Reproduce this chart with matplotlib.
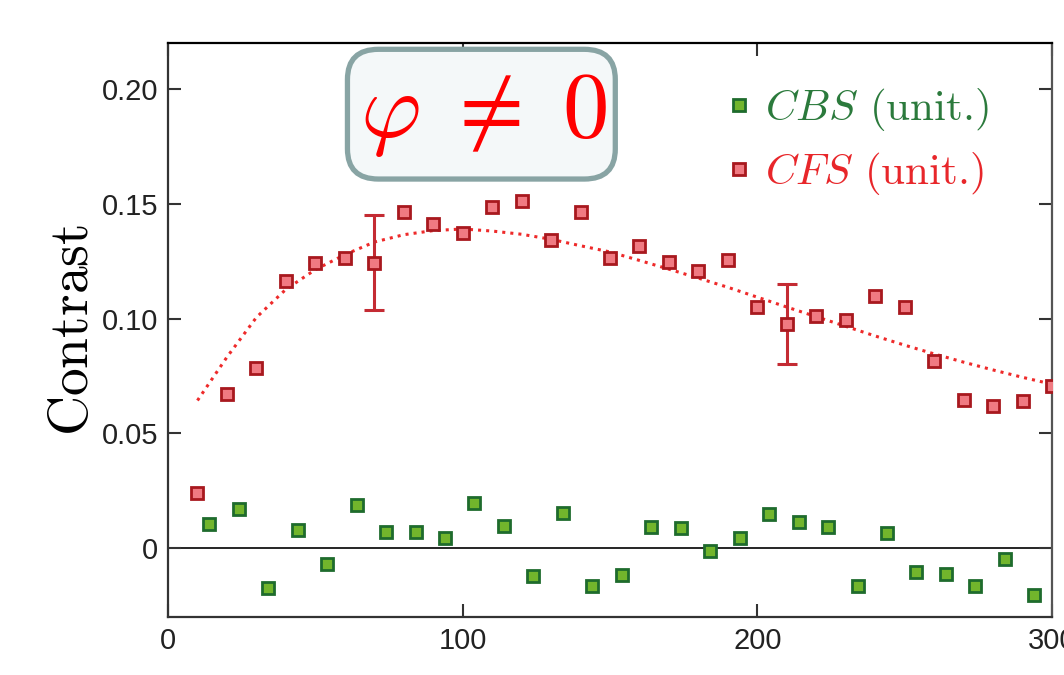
import numpy as np
import matplotlib.pyplot as plt
from matplotlib.patches import FancyBboxPatch

plt.rcParams['font.family'] = 'Liberation Sans'
plt.rcParams['mathtext.fontset'] = 'cm'

## Datos
# CFS (forward scattering) contrast, one point every 10 units
t_cfs = [10, 20, 30, 40, 50, 60, 70, 80, 90, 100,
         110, 120, 130, 140, 150, 160, 170, 180, 190, 200,
         210, 220, 230, 240, 250, 260, 270, 280, 290, 300]
cfs = [0.0238, 0.0672, 0.0786, 0.1163, 0.1241, 0.1263, 0.1244, 0.1462, 0.1412, 0.1372,
       0.1484, 0.1510, 0.1343, 0.1462, 0.1264, 0.1314, 0.1245, 0.1209, 0.1255, 0.1049,
       0.0976, 0.1013, 0.0994, 0.1100, 0.1049, 0.0817, 0.0643, 0.0619, 0.0640, 0.0704]

# CBS (backscattering) contrast
t_cbs = [14, 24, 34, 44, 54, 64, 74, 84, 94, 104,
         114, 124, 134, 144, 154, 164, 174, 184, 194, 204,
         214, 224, 234, 244, 254, 264, 274, 284, 294]
cbs = [0.0107, 0.0172, -0.0175, 0.0078, -0.0071, 0.0190, 0.0071, 0.0071, 0.0042, 0.0197,
       0.0096, -0.0122, 0.0151, -0.0164, -0.0117, 0.0093, 0.0086, -0.0012, 0.0042, 0.0148,
       0.0112, 0.0093, -0.0165, 0.0067, -0.0103, -0.0114, -0.0165, -0.0049, -0.0204]

# barras de error representativas
t_err = [70, 210]
cfs_err_c = [0.1244, 0.0976]
cfs_err = [0.0205, 0.0176]

# ajuste de CFS
t_fit = [10, 20, 30, 40, 50, 60, 70, 80, 90, 100,
         110, 120, 130, 140, 150, 160, 170, 180, 190, 200,
         210, 220, 230, 240, 250, 260, 270, 280, 290, 300]
cfs_fit = [0.0643, 0.0832, 0.1005, 0.1127, 0.1213, 0.1278, 0.1333, 0.1365, 0.1383, 0.1390,
           0.1381, 0.1367, 0.1345, 0.1317, 0.1290, 0.1253, 0.1215, 0.1176, 0.1136, 0.1093,
           0.1050, 0.1008, 0.0966, 0.0924, 0.0884, 0.0846, 0.0810, 0.0776, 0.0744, 0.0714]

xticks = [0, 100, 200, 300]
yticks = [0, 0.05, 0.10, 0.15, 0.20]
yticklabels = ['0', '0.05', '0.10', '0.15', '0.20']

red = '#e8262a'
green = '#2b7a3c'

## Grafica
fig = plt.figure(figsize=(10.64, 6.75), dpi=100)
ax = fig.add_axes([0.1579, 0.0859, 0.8308, 0.8504])

ax.axhline(0, color='black', lw=1.2, zorder=1)
ax.plot(t_fit, cfs_fit, ':', color='#ee2a2a', lw=2.2, zorder=2)
ax.errorbar(t_err, cfs_err_c, yerr=cfs_err, fmt='none', ecolor='#c42b33',
            elinewidth=2.2, capsize=7, capthick=2.2, zorder=3)
ax.plot(t_cbs, cbs, 's', ms=8.5, mfc='#72b52c', mec='#1e6b2d', mew=2.0,
        label=r'$CBS$ (unit.)', zorder=4)
ax.plot(t_cfs, cfs, 's', ms=8, mfc='#f07a82', mec='#a8181e', mew=2.0,
        label=r'$CFS$ (unit.)', zorder=4)

ax.set_xlim(0, 300)
ax.set_ylim(-0.03, 0.22)
ax.set_xticks(xticks)
ax.set_yticks(yticks)
ax.set_yticklabels(yticklabels)
ax.tick_params(axis='both', which='both', direction='in', length=9.5, width=1.5,
               color='#333333', labelsize=21, labelcolor='#222222',
               top=True, right=True, pad=7)
for s in ax.spines.values():
    s.set_linewidth(1.6)
ax.spines['left'].set_color('#333333')
ax.spines['right'].set_color('#555555')
ax.spines['top'].set_color('black')
ax.spines['bottom'].set_color('#333333')

ax.set_ylabel(r'$\mathrm{Contrast}$', fontsize=40, labelpad=1)
ax.set_xlabel(r'$t$', fontsize=38, labelpad=22)

leg = ax.legend(loc='upper left', bbox_to_anchor=(0.59, 0.985), frameon=False,
                prop={'family': 'cmr10', 'size': 31}, numpoints=1,
                markerscale=1.1, handlelength=0.7, handletextpad=0.25,
                labelspacing=0.4, borderaxespad=0.4)
for txt, c in zip(leg.get_texts(), [green, red]):
    txt.set_color(c)

box = FancyBboxPatch((0.203, 0.763), 0.303, 0.226, transform=ax.transAxes,
                     boxstyle='round,pad=0,rounding_size=0.035',
                     fc='#f4f8f9', ec='#88a4a4', lw=3.8, zorder=5,
                     mutation_aspect=1.5)
ax.add_patch(box)
ax.text(0.357, 0.874, r'$\varphi \;\neq\; 0$', transform=ax.transAxes,
        fontsize=67, color='red', ha='center', va='center', zorder=6)

fig.savefig('out.png', dpi=100)
